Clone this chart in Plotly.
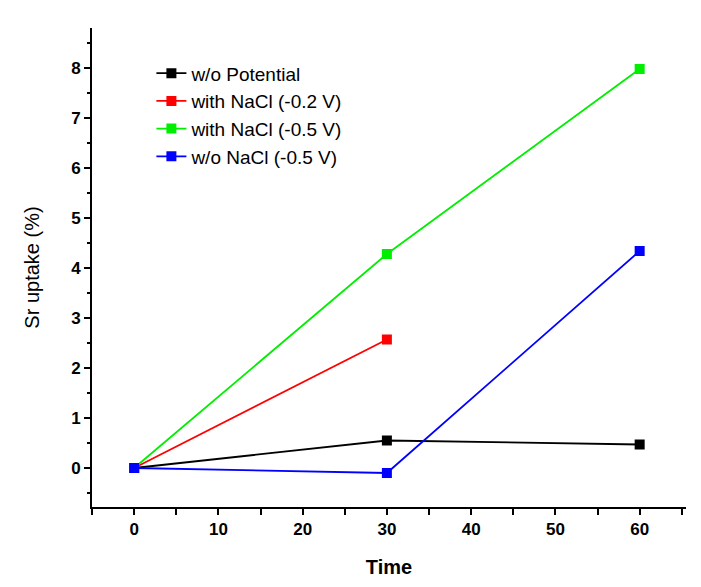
import plotly.graph_objects as go

time = [0, 30, 60]
series_names = ["w/o Potential", "with NaCl (-0.2 V)", "with NaCl (-0.5 V)", "w/o NaCl (-0.5 V)"]
wo_potential = [0, 0.55, 0.47]
nacl_02 = [0, 2.57, None]
nacl_05 = [0, 4.28, 7.98]
wo_nacl_05 = [0, -0.1, 4.34]
colors = ["#000000", "#ff0000", "#00ee00", "#0000ff"]
x_ticks = [0, 10, 20, 30, 40, 50, 60]
y_ticks = [0, 1, 2, 3, 4, 5, 6, 7, 8]

fig = go.Figure()
for name, ys, c in zip(series_names, [wo_potential, nacl_02, nacl_05, wo_nacl_05], colors):
    xs = [t for t, v in zip(time, ys) if v is not None]
    yv = [v for v in ys if v is not None]
    fig.add_trace(go.Scatter(x=xs, y=yv, name=name, mode="lines+markers",
                             line=dict(color=c, width=1.8),
                             marker=dict(symbol="square", size=10, color=c)))

font_fam = "Liberation Sans, Arial, sans-serif"
fig.update_layout(
    width=701, height=587,
    margin=dict(l=92, r=15, t=28, b=80),
    paper_bgcolor="white", plot_bgcolor="white",
    font=dict(family=font_fam, color="black"),
    legend=dict(x=0.1, y=0.945, xanchor="left", yanchor="top",
                bgcolor="rgba(0,0,0,0)", font=dict(size=19), tracegroupgap=0),
    xaxis=dict(range=[-5, 65.5], tickvals=x_ticks, ticktext=[f"<b>{v}</b>" for v in x_ticks],
               automargin=False,
               showgrid=False, zeroline=False, showline=True, linecolor="black", linewidth=2,
               ticks="outside", ticklen=6, tickwidth=1.5, tickcolor="black",
               minor=dict(tickvals=[-5, 5, 15, 25, 35, 45, 55, 65], ticks="outside", ticklen=6, tickwidth=1.5, tickcolor="black"),
               tickfont=dict(size=17, family=font_fam),
               title=dict(text="<b>Time</b>", font=dict(size=20), standoff=22)),
    yaxis=dict(range=[-0.78, 8.8], tickvals=y_ticks, ticktext=[f"<b>{v}</b>" for v in y_ticks],
               automargin=False,
               showgrid=False, zeroline=False, showline=True, linecolor="black", linewidth=2,
               ticks="outside", ticklen=6, tickwidth=1.5, tickcolor="black",
               minor=dict(tickvals=[-0.5, 0.5, 1.5, 2.5, 3.5, 4.5, 5.5, 6.5, 7.5, 8.5], ticks="outside", ticklen=3, tickwidth=1.5, tickcolor="black"),
               tickfont=dict(size=17, family=font_fam),
               title=dict(text="Sr uptake (%)", font=dict(size=20), standoff=26)),
)

fig.write_html("out.html", config={"displayModeBar": False},
               post_script="document.body.style.margin='0';")
